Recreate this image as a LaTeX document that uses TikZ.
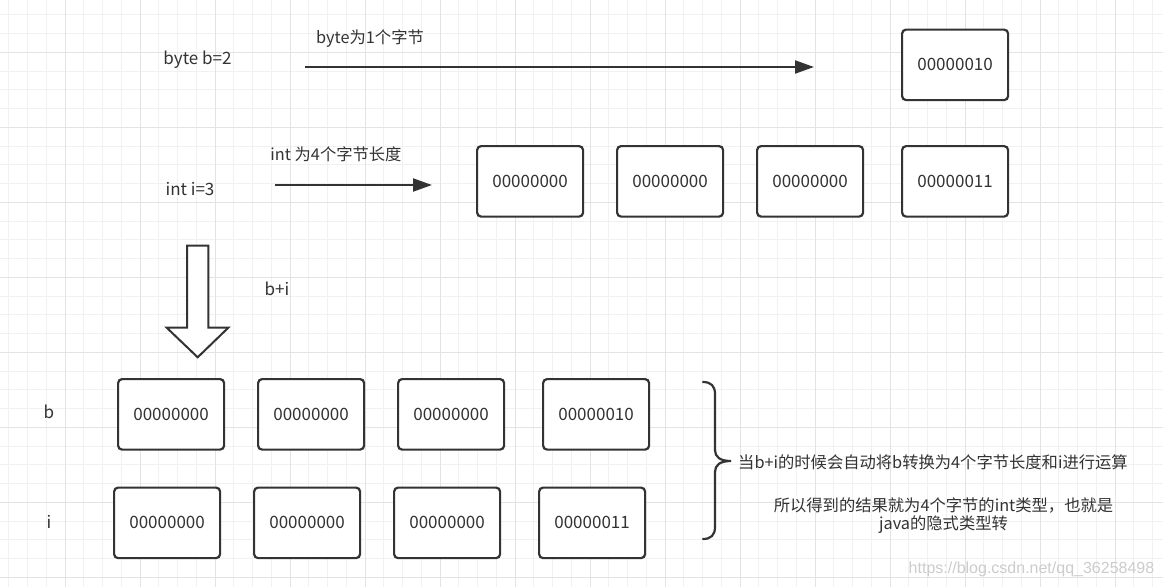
\documentclass[tikz,border=0pt]{standalone}
\usepackage{fontspec}
\setmainfont{Noto Sans CJK SC}
\newfontfamily\wmfont{Liberation Sans}
\usetikzlibrary{arrows.meta}
\definecolor{ink}{HTML}{333333}
\definecolor{gridminor}{HTML}{F1F1F1}
\definecolor{gridmajor}{HTML}{E3E3E3}
\begin{document}
\begin{tikzpicture}[x=1pt,y=-1pt,
  cell/.style={draw=ink, line width=2.2pt, rounded corners=4pt, minimum width=106pt, minimum height=70.5pt, inner sep=0pt, anchor=north west, font=\fontsize{17}{20}\selectfont, text=ink, fill=white},
  lbl/.style={text=ink, font=\fontsize{17}{20}\selectfont, inner sep=0pt},
  cjk/.style={text=ink, font=\fontsize{16.3}{20}\selectfont, inner sep=0pt},
  arr/.style={draw=ink, line width=2pt, -{Triangle[length=19pt,width=13pt]}},
  bigarrow/.style={draw=ink, line width=2pt, fill=white, line join=miter},
  bracestyle/.style={draw=ink, line width=2.2pt, line cap=round}]
\useasboundingbox (0,0) rectangle (1163,587);
\fill[white] (0,0) rectangle (1163,587);
% grid
\foreach \k in {-3,...,58} {\draw[gridminor, line width=1pt] ({65+18.75*\k},0) -- ({65+18.75*\k},587);}
\foreach \k in {-2,...,28} {\draw[gridminor, line width=1pt] (0,{52.3+18.75*\k}) -- (1163,{52.3+18.75*\k});}
\foreach \k in {-1,...,14} {\draw[gridmajor, line width=1pt] ({65+75*\k},0) -- ({65+75*\k},587);}
\foreach \k in {-1,...,7} {\draw[gridmajor, line width=1pt] (0,{52.3+75*\k}) -- (1163,{52.3+75*\k});}

% labels
\node[lbl] (byteb) at (197.5,60) {byte b=2};
\node[cjk] (bytelen) at (370,39) {byte为1个字节};
\node[lbl] (inti) at (190,189) {int i=3};
\node[cjk] (intlen) at (336,154.5) {int 为4个字节长度};
\node[lbl] (bpi) at (277,289) {b+i};
\node[lbl] (lb) at (49,412) {b};
\node[lbl] (li) at (49,522) {i};

% boxes
\node[cell] (top) at (901,28.5) {00000010};
\node[cell] (r1) at (476,145) {00000000};
\node[cell] (r2) at (616,145) {00000000};
\node[cell] (r3) at (756,145) {00000000};
\node[cell] (r4) at (901,145) {00000011};
\node[cell] (b1) at (117,378) {00000000};
\node[cell] (b2) at (257,378) {00000000};
\node[cell] (b3) at (397,378) {00000000};
\node[cell] (b4) at (542,378) {00000010};
\node[cell] (i1) at (113,486.5) {00000000};
\node[cell] (i2) at (253,486.5) {00000000};
\node[cell] (i3) at (393,486.5) {00000000};
\node[cell] (i4) at (538,486.5) {00000011};

% arrows
\coordinate (a1s) at (305,67);
\coordinate (a1e) at (814,67);
\coordinate (a2s) at (275,185);
\coordinate (a2e) at (432,185);
\draw[arr] (a1s) -- (a1e);
\draw[arr] (a2s) -- (a2e);

% big down arrow
\draw[bigarrow] (187,245.7) -- (208.3,245.7) -- (208.3,327.7) -- (228.3,327.7) -- (197.7,357.3) -- (166.7,327.7) -- (187,327.7) -- cycle;

% brace
\draw[bracestyle] (703,382) .. controls (711,382) and (715,386) .. (715,394) -- (715,450) .. controls (715,457) and (720,461) .. (731,461) .. controls (720,461) and (715,465) .. (715,472) -- (715,527) .. controls (715,535) and (711,539) .. (703,539);

% explanation
\node[cjk, anchor=west] (ex1) at (738,462) {当b+i的时候会自动将b转换为4个字节长度和i进行运算};
\node[cjk] (ex2) at (943.5,505) {所以得到的结果就为4个字节的int类型，也就是};
\node[cjk] (ex3) at (943.5,525) {java的隐式类型转};

% watermark
\node[text=gray!40, font=\wmfont\fontsize{16}{18}\selectfont, inner sep=0pt] (wm) at (1031.5,569) {https://blog.csdn.net/qq\_36258498};
\end{tikzpicture}
\end{document}
